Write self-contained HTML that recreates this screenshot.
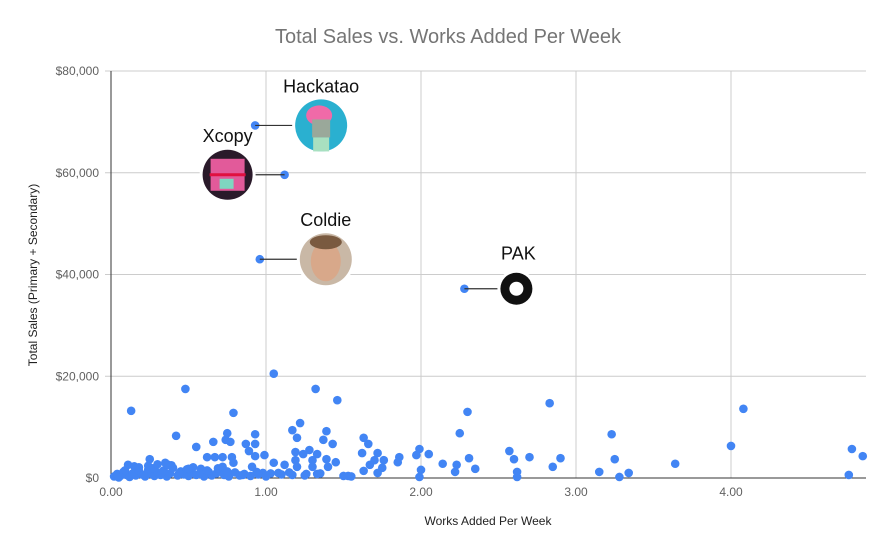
<!DOCTYPE html>
<html><head><meta charset="utf-8"><style>
html,body{margin:0;padding:0;background:#fff;}
svg{display:block;font-family:"Liberation Sans",Arial,sans-serif;}
</style></head><body>
<svg id="chart" width="896" height="553" viewBox="0 0 896 553" xmlns="http://www.w3.org/2000/svg">
<rect width="896" height="553" fill="#fff"/>
<text x="448" y="43" text-anchor="middle" font-size="20" fill="#757575">Total Sales vs. Works Added Per Week</text>
<g id="grid"></g>
<g id="axes"></g>
<g id="points"></g>
<g id="annot"></g>
<text x="488" y="525" text-anchor="middle" font-size="12" fill="#222">Works Added Per Week</text>
<text transform="translate(37,275) rotate(-90)" text-anchor="middle" font-size="12" fill="#222">Total Sales (Primary + Secondary)</text>
</svg>
<script>
const xTicks=[0,1,2,3,4];
const xTickLabels=["0.00","1.00","2.00","3.00","4.00"];
const yTicks=[0,20000,40000,60000,80000];
const yTickLabels=["$0","$20,000","$40,000","$60,000","$80,000"];
const xVals=[0.13,0.48,1.05,1.32,1.46,0.79,2.30,0.42,2.25,1.22,1.17,1.20,1.39,1.37,1.43,0.75,0.93,0.74,0.66,0.77,0.87,0.93,0.55,0.89,1.63,1.66,1.62,1.72,1.99,2.05,1.97,1.86,2.31,2.14,2.23,2.35,2.22,2.00,1.99,1.85,1.76,1.70,1.75,1.67,1.72,1.63,1.53,1.45,1.40,1.39,1.33,1.28,1.30,1.24,1.19,1.19,1.20,1.30,1.26,1.33,1.12,1.05,0.99,0.93,1.08,1.17,0.98,0.91,0.79,0.78,0.72,0.72,0.67,0.62,0.25,0.35,0.11,
2.83,2.57,2.60,2.70,2.90,2.85,2.62,2.62,3.23,3.25,3.15,3.28,3.34,3.64,4.08,4.00,4.78,4.85,4.76,
0.02,0.04,0.06,0.08,0.10,0.12,0.14,0.16,0.18,0.20,0.22,0.24,0.26,0.28,0.30,0.32,0.34,0.36,0.38,0.40,0.43,0.45,0.47,0.50,0.52,0.55,0.58,0.60,0.63,0.65,0.68,0.70,0.73,0.76,0.80,0.83,0.86,0.90,0.95,1.00,1.03,0.05,0.09,0.15,0.21,0.27,0.33,0.39,0.44,0.49,0.53,0.57,0.62,0.69,0.75,0.85,0.94,1.10,1.15,1.25,1.35,1.50,1.55,0.30,0.18,0.37,0.50,0.24,
0.93,1.12,0.96,2.28];
const yVals=[13200,17500,20500,17500,15300,12800,13000,8300,8800,10800,9400,7900,9200,7500,6700,8800,8600,7500,7100,7100,6700,6700,6100,5300,7900,6700,4900,4900,5700,4700,4500,4100,3900,2800,2600,1800,1200,1600,200,3100,3500,3500,2000,2600,1000,1400,400,3100,2200,3700,4700,5500,3500,4700,5100,3500,2200,2200,800,800,2600,3000,4500,4300,1000,600,1000,2200,3000,4100,4100,2200,4100,4100,3700,3000,2600,
14700,5300,3700,4100,3900,2200,1200,200,8600,3700,1200,200,1000,2800,13600,6300,5700,4300,600,
300,800,400,1200,600,200,900,500,1400,700,300,1600,800,400,1100,600,1500,300,900,2000,500,1300,700,400,1000,600,1800,300,1200,500,900,1400,600,300,1100,500,800,400,700,300,900,100,1500,2300,600,1900,1200,2500,900,1700,2100,800,1500,1900,1300,600,1200,700,1100,500,900,400,300,2700,2100,2600,1800,2400,
69300,59600,43000,37200];
const annNames=["Hackatao","Xcopy","Coldie","PAK"];
const annX=[0.93,1.12,0.96,2.28];
const annY=[69300,59600,43000,37200];

const X0=111,XS=155,Y0=478,YS=101.75/20000,XR=866;
const sx=v=>X0+v*XS, sy=v=>Y0-v*YS;
const NS="http://www.w3.org/2000/svg";
function mk(tag,attrs,parent){const e=document.createElementNS(NS,tag);for(const k in attrs)e.setAttribute(k,attrs[k]);parent.appendChild(e);return e;}
const grid=document.getElementById('grid'),axes=document.getElementById('axes'),pts=document.getElementById('points'),ann=document.getElementById('annot');
yTicks.forEach((t,i)=>{
  if(t>0){const l=mk('line',{x1:105,x2:XR,y1:sy(t),y2:sy(t),stroke:'#cccccc','stroke-width':1},grid);
  
  }
  const tx=mk('text',{x:99,y:sy(t)+4,'text-anchor':'end','font-size':12,fill:'#616161'},axes);
  tx.textContent=yTickLabels[i];
  
  
});
xTicks.forEach((t,i)=>{
  if(t>0){const l=mk('line',{x1:sx(t),x2:sx(t),y1:sy(80000),y2:Y0,stroke:'#cccccc','stroke-width':1},grid);
  
  }
  const tx=mk('text',{x:sx(t),y:496,'text-anchor':'middle','font-size':12,fill:'#616161'},axes);
  tx.textContent=xTickLabels[i];
  
  
});
const ya=mk('line',{x1:X0,x2:X0,y1:sy(80000),y2:Y0,stroke:'#333','stroke-width':1},axes);


const xa=mk('line',{x1:X0,x2:XR,y1:Y0,y2:Y0,stroke:'#333','stroke-width':1},axes);


// annotation connectors + avatars
const avatarOff=[[66,0],[-57,0],[66,0],[52,0]];
const avatarR=[26,25,26,16];
const avatarFill=["#2ab0d0","#2a1a2a","#c9b8a6","#111"];
annNames.forEach((n,i)=>{
  const px=sx(annX[i]),py=sy(annY[i]);
  const cx=px+avatarOff[i][0],cy=py+avatarOff[i][1];
  const ln=mk('line',{x1:px,y1:py,x2:cx,y2:cy,stroke:'#333','stroke-width':1.2},ann);
  
  
  const halo=mk('circle',{cx:cx,cy:cy,r:avatarR[i]+3,fill:'#fff'},ann);
  
  
  const c=mk('circle',{cx:cx,cy:cy,r:avatarR[i],fill:avatarFill[i]},ann);
  
  
  if(i===0){mk('ellipse',{cx:cx-2,cy:cy-10,rx:13,ry:10,fill:'#f06aa8'},ann);mk('rect',{x:cx-9,y:cy-6,width:18,height:18,fill:'#9aa89a'},ann);mk('rect',{x:cx-8,y:cy+12,width:16,height:14,fill:'#a8e0c0'},ann);}
  if(i===1){mk('rect',{x:cx-17,y:cy-16,width:34,height:32,fill:'#e25a9a'},ann);mk('rect',{x:cx-8,y:cy+4,width:14,height:10,fill:'#7fd6c0'},ann);mk('line',{x1:cx-18,y1:cy,x2:cx+18,y2:cy,stroke:'#e01040','stroke-width':3},ann);}
  if(i===2){mk('ellipse',{cx:cx,cy:cy+2,rx:15,ry:20,fill:'#d8a88a'},ann);mk('ellipse',{cx:cx,cy:cy-17,rx:16,ry:7,fill:'#7a5a40'},ann);}
  if(i===3){mk('circle',{cx:cx,cy:cy,r:7,fill:'#fff'},ann);}
  const t=mk('text',{x:cx+(i===3?2:0),y:cy-(i===3?29:33),'text-anchor':'middle','font-size':18,fill:'#111'},ann);
  t.textContent=n;
  
  
});
xVals.forEach((x,i)=>{
  const c=mk('circle',{cx:sx(x),cy:sy(yVals[i]),r:4.3,fill:'#4285f4'},pts);
  
  
});
</script>
</body></html>
